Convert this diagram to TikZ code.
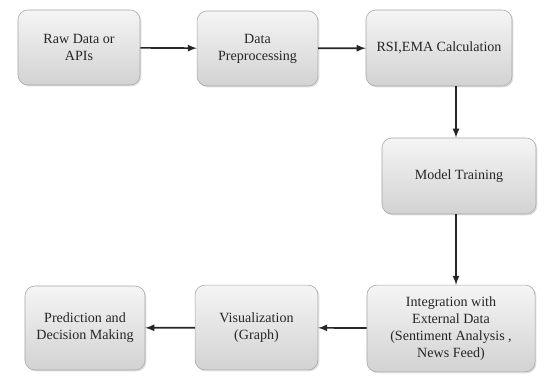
\documentclass[tikz,border=0pt]{standalone}
\usepackage{fontspec}
\setmainfont{Liberation Serif}
\usetikzlibrary{shadows}

\tikzset{
  stage/.style={draw=gray!70, rounded corners=7pt, top color=gray!8, bottom color=gray!35,
    drop shadow={opacity=0.25, shadow xshift=1pt, shadow yshift=-1pt},
    align=center, font=\normalsize, text=black!85, inner sep=2pt},
  flow/.style={line width=1.2pt, black!85, -latex}
}

\begin{document}
\begin{tikzpicture}[x=0.025cm, y=-0.025cm]
            \useasboundingbox (0,0) rectangle (544,376);

            % Top Row
            \node[stage, minimum width=3.05cm, minimum height=1.875cm] (raw) at (79,47.5) {Raw Data or\\APIs};
            \node[stage, minimum width=3.02cm, minimum height=1.875cm] (prep) at (257.5,48.5) {Data\\Preprocessing};
            \node[stage, minimum width=3.65cm, minimum height=1.9cm] (rsi) at (439,48) {RSI,EMA Calculation};

            % Middle
            \node[stage, minimum width=3.85cm, minimum height=1.9cm] (model) at (459,176) {Model Training};

            % Bottom Row
            \node[stage, minimum width=4.2cm, minimum height=2.17cm] (integ) at (451,328.5) {Integration with\\External Data\\(Sentiment Analysis ,\\News Feed)};
            \node[stage, minimum width=3.07cm, minimum height=2.12cm] (vis) at (256.5,327.5) {Visualization\\(Graph)};
            \node[stage, minimum width=3cm, minimum height=2.1cm] (pred) at (85,328) {Prediction and\\Decision Making};

            % Arrows
            \draw[flow] (raw) -- (prep);
            \draw[flow] (prep) -- (rsi);
            \draw[flow] (rsi.south -| 456,0) -- (model.north -| 456,0);
            \draw[flow] (model.south -| 456,0) -- (integ.north -| 456,0);
            \draw[flow] (integ) -- (vis);
            \draw[flow] (vis) -- (pred);
        \end{tikzpicture}
\end{document}
